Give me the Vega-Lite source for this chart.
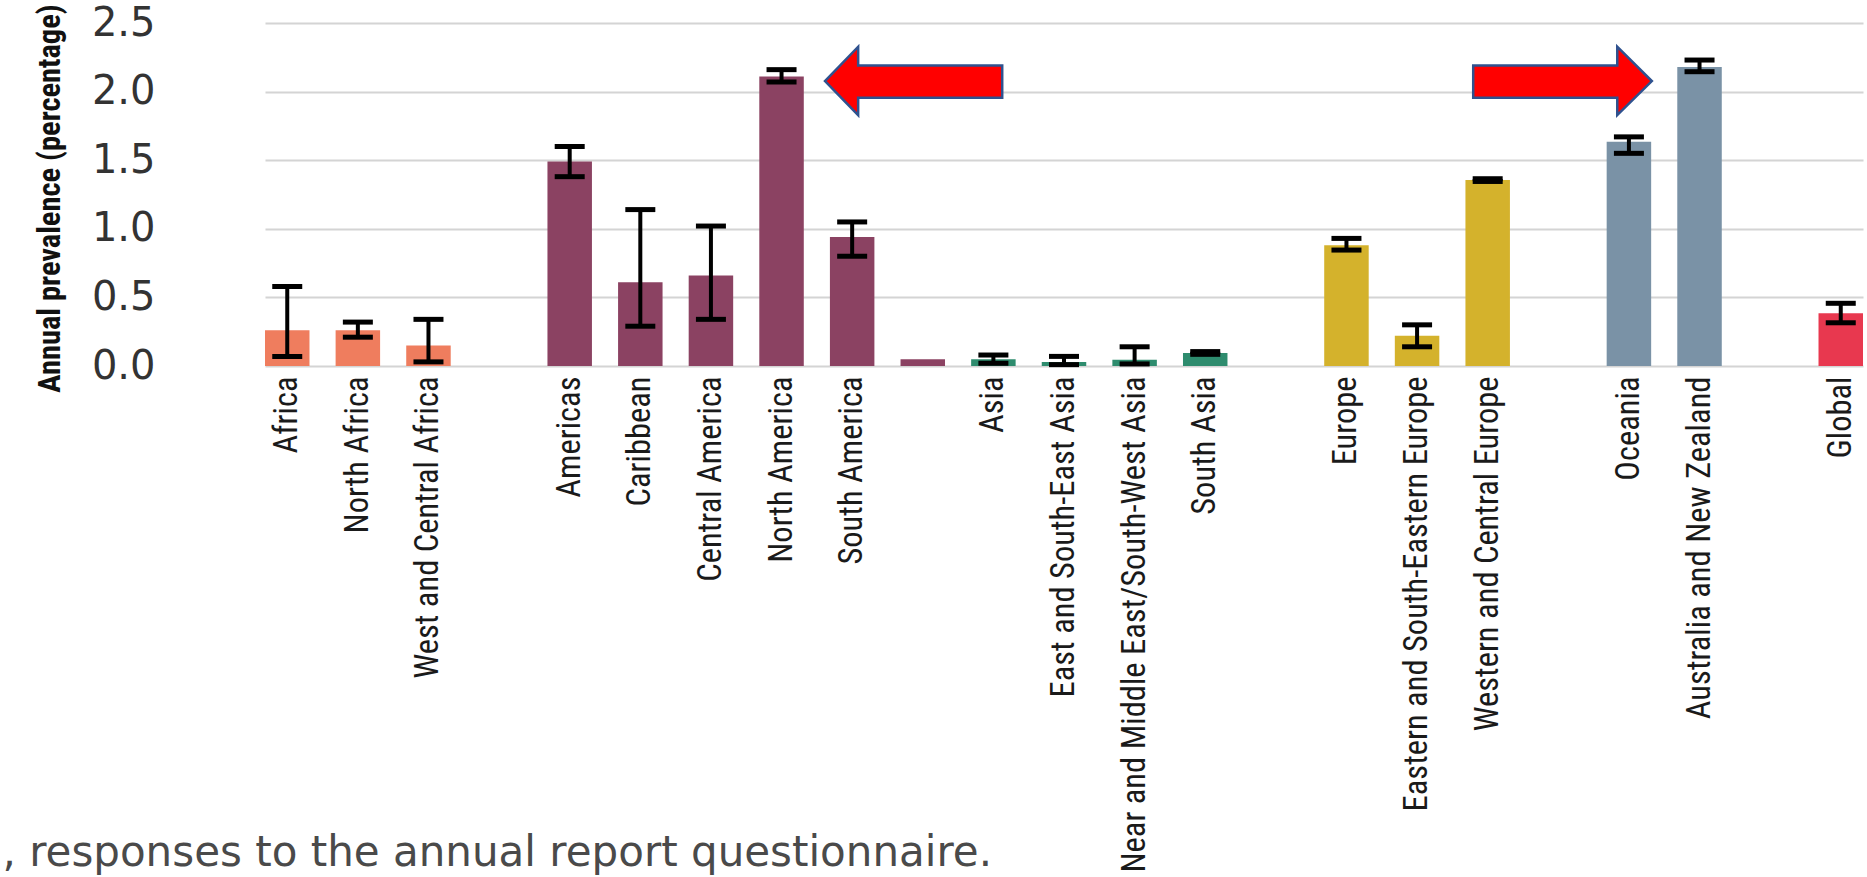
{
  "$schema": "https://vega.github.io/schema/vega-lite/v6.json",
  "autosize": {"type": "none"},
  "padding": {"left": 265, "top": 23, "right": 4, "bottom": 511},
  "width": 1598,
  "height": 343,
  "background": "white",
  "config": {"view": {"stroke": null}},
  "datasets": {
    "regions": [
      {"region": "Africa", "group": "Africa", "value": 0.26, "lo": 0.07, "hi": 0.58},
      {"region": "North Africa", "group": "Africa", "value": 0.26, "lo": 0.21, "hi": 0.32},
      {"region": "West and Central Africa", "group": "Africa", "value": 0.15, "lo": 0.03, "hi": 0.34},
      {"region": "Americas", "group": "Americas", "value": 1.49, "lo": 1.38, "hi": 1.6},
      {"region": "Caribbean", "group": "Americas", "value": 0.61, "lo": 0.29, "hi": 1.14},
      {"region": "Central America", "group": "Americas", "value": 0.66, "lo": 0.34, "hi": 1.02},
      {"region": "North America", "group": "Americas", "value": 2.11, "lo": 2.07, "hi": 2.16},
      {"region": "South America", "group": "Americas", "value": 0.94, "lo": 0.8, "hi": 1.05},
      {"region": "_0", "group": "Americas", "value": 0.05, "lo": null, "hi": null},
      {"region": "Asia", "group": "Asia", "value": 0.05, "lo": 0.02, "hi": 0.08},
      {"region": "East and South-East Asia", "group": "Asia", "value": 0.03, "lo": 0.01, "hi": 0.07},
      {"region": "Near and Middle East/South-West Asia", "group": "Asia", "value": 0.045, "lo": 0.015, "hi": 0.14},
      {"region": "South Asia", "group": "Asia", "value": 0.095, "lo": 0.085, "hi": 0.105},
      {"region": "Europe", "group": "Europe", "value": 0.88, "lo": 0.845, "hi": 0.93},
      {"region": "Eastern and South-Eastern Europe", "group": "Europe", "value": 0.22, "lo": 0.14, "hi": 0.3},
      {"region": "Western and Central Europe", "group": "Europe", "value": 1.355, "lo": 1.345, "hi": 1.365},
      {"region": "Oceania", "group": "Oceania", "value": 1.635, "lo": 1.55, "hi": 1.67},
      {"region": "Australia and New Zealand", "group": "Oceania", "value": 2.18, "lo": 2.145, "hi": 2.23},
      {"region": "Global", "group": "Global", "value": 0.385, "lo": 0.315, "hi": 0.457}
    ],
    "arrows": [
      {"arrow": "left", "u": 7.93, "top": 2.077, "bottom": 2.077},
      {"arrow": "left", "u": 8.4, "top": 2.327, "bottom": 1.829},
      {"arrow": "left", "u": 8.4001, "top": 2.19, "bottom": 1.955},
      {"arrow": "left", "u": 10.44, "top": 2.19, "bottom": 1.955},
      {"arrow": "right", "u": 17.11, "top": 2.19, "bottom": 1.955},
      {"arrow": "right", "u": 19.15, "top": 2.19, "bottom": 1.955},
      {"arrow": "right", "u": 19.1501, "top": 2.327, "bottom": 1.829},
      {"arrow": "right", "u": 19.64, "top": 2.077, "bottom": 2.077}
    ]
  },
  "layer": [
    {
      "data": {"name": "regions"},
      "encoding": {
        "x": {
          "field": "region",
          "type": "nominal",
          "sort": null,
          "scale": {
            "domain": ["Africa", "North Africa", "West and Central Africa", "_1", "Americas", "Caribbean", "Central America", "North America", "South America", "_0", "Asia", "East and South-East Asia", "Near and Middle East/South-West Asia", "South Asia", "_2", "Europe", "Eastern and South-Eastern Europe", "Western and Central Europe", "_3", "Oceania", "Australia and New Zealand", "_4", "Global"],
            "paddingInner": 0.37,
            "paddingOuter": 0
          },
          "axis": {
            "labelExpr": "indexof(datum.value, '_') === 0 ? '' : datum.value",
            "labelAngle": -90,
            "labelAlign": "right",
            "labelBaseline": "middle",
            "labelPadding": 10,
            "labelFont": "Roboto Condensed, DejaVu Sans Condensed, sans-serif",
            "labelFontSize": 32.5,
            "labelColor": "#1a1a1a",
            "labelLimit": 800,
            "labelOverlap": false,
            "domain": false,
            "ticks": false,
            "grid": false,
            "title": ", responses to the annual report questionnaire.",
            "titleFont": "DejaVu Sans",
            "titleFontWeight": "normal",
            "titleFontSize": 42,
            "titleColor": "#4a4a4a",
            "titleAlign": "left",
            "titleAnchor": "start",
            "titleBaseline": "alphabetic",
            "titleX": -263,
            "titleY": 499
          }
        },
        "y": {
          "type": "quantitative",
          "scale": {"domain": [0, 2.5], "nice": false}
        }
      },
      "layer": [
        {
          "mark": {"type": "bar"},
          "encoding": {
            "y": {
              "field": "value",
              "type": "quantitative",
              "scale": {"domain": [0, 2.5], "nice": false},
              "axis": {
                "values": [0, 0.5, 1, 1.5, 2, 2.5],
                "format": ".1f",
                "labelFont": "DejaVu Sans",
                "labelFontSize": 40,
                "labelColor": "#333333",
                "labelPadding": 110,
                "domain": false,
                "ticks": false,
                "grid": true,
                "gridColor": "#d4d4d4",
                "gridWidth": 2,
                "title": "Annual prevalence (percentage)",
                "titleFont": "Roboto Condensed, DejaVu Sans Condensed, sans-serif",
                "titleFontWeight": "bold",
                "titleFontSize": 30.5,
                "titleColor": "#111111",
                "titleAngle": -90,
                "titleAlign": "center",
                "titleBaseline": "middle",
                "titleX": -215,
                "titleY": 175
              }
            },
            "color": {
              "field": "group",
              "type": "nominal",
              "scale": {
                "domain": ["Africa", "Americas", "Asia", "Europe", "Oceania", "Global"],
                "range": ["#EF7D5E", "#8B4262", "#2E8C6E", "#D4B22C", "#7A92A6", "#E8384F"]
              },
              "legend": null
            }
          }
        },
        {
          "transform": [{"filter": "isValid(datum.lo)"}],
          "mark": {"type": "rule", "color": "#000000", "strokeWidth": 4},
          "encoding": {
            "y": {"field": "lo", "type": "quantitative"},
            "y2": {"field": "hi"}
          }
        },
        {
          "transform": [{"filter": "isValid(datum.lo)"}],
          "mark": {"type": "tick", "color": "#000000", "size": 30, "thickness": 5, "opacity": 1},
          "encoding": {
            "y": {"field": "lo", "type": "quantitative"}
          }
        },
        {
          "transform": [{"filter": "isValid(datum.hi)"}],
          "mark": {"type": "tick", "color": "#000000", "size": 30, "thickness": 5, "opacity": 1},
          "encoding": {
            "y": {"field": "hi", "type": "quantitative"}
          }
        }
      ]
    },
    {
      "data": {"name": "arrows"},
      "mark": {"type": "area", "fill": "#FF0000", "stroke": "#2F528F", "strokeWidth": 2.5, "opacity": 1, "fillOpacity": 1, "interpolate": "linear", "orient": "vertical"},
      "encoding": {
        "x": {"field": "u", "type": "quantitative", "scale": {"domain": [0, 22.63], "nice": false, "zero": false}, "axis": null},
        "y": {"field": "top", "type": "quantitative", "scale": {"domain": [0, 2.5], "nice": false}},
        "y2": {"field": "bottom"},
        "detail": {"field": "arrow", "type": "nominal"}
      }
    }
  ],
  "resolve": {"scale": {"x": "independent"}}
}
